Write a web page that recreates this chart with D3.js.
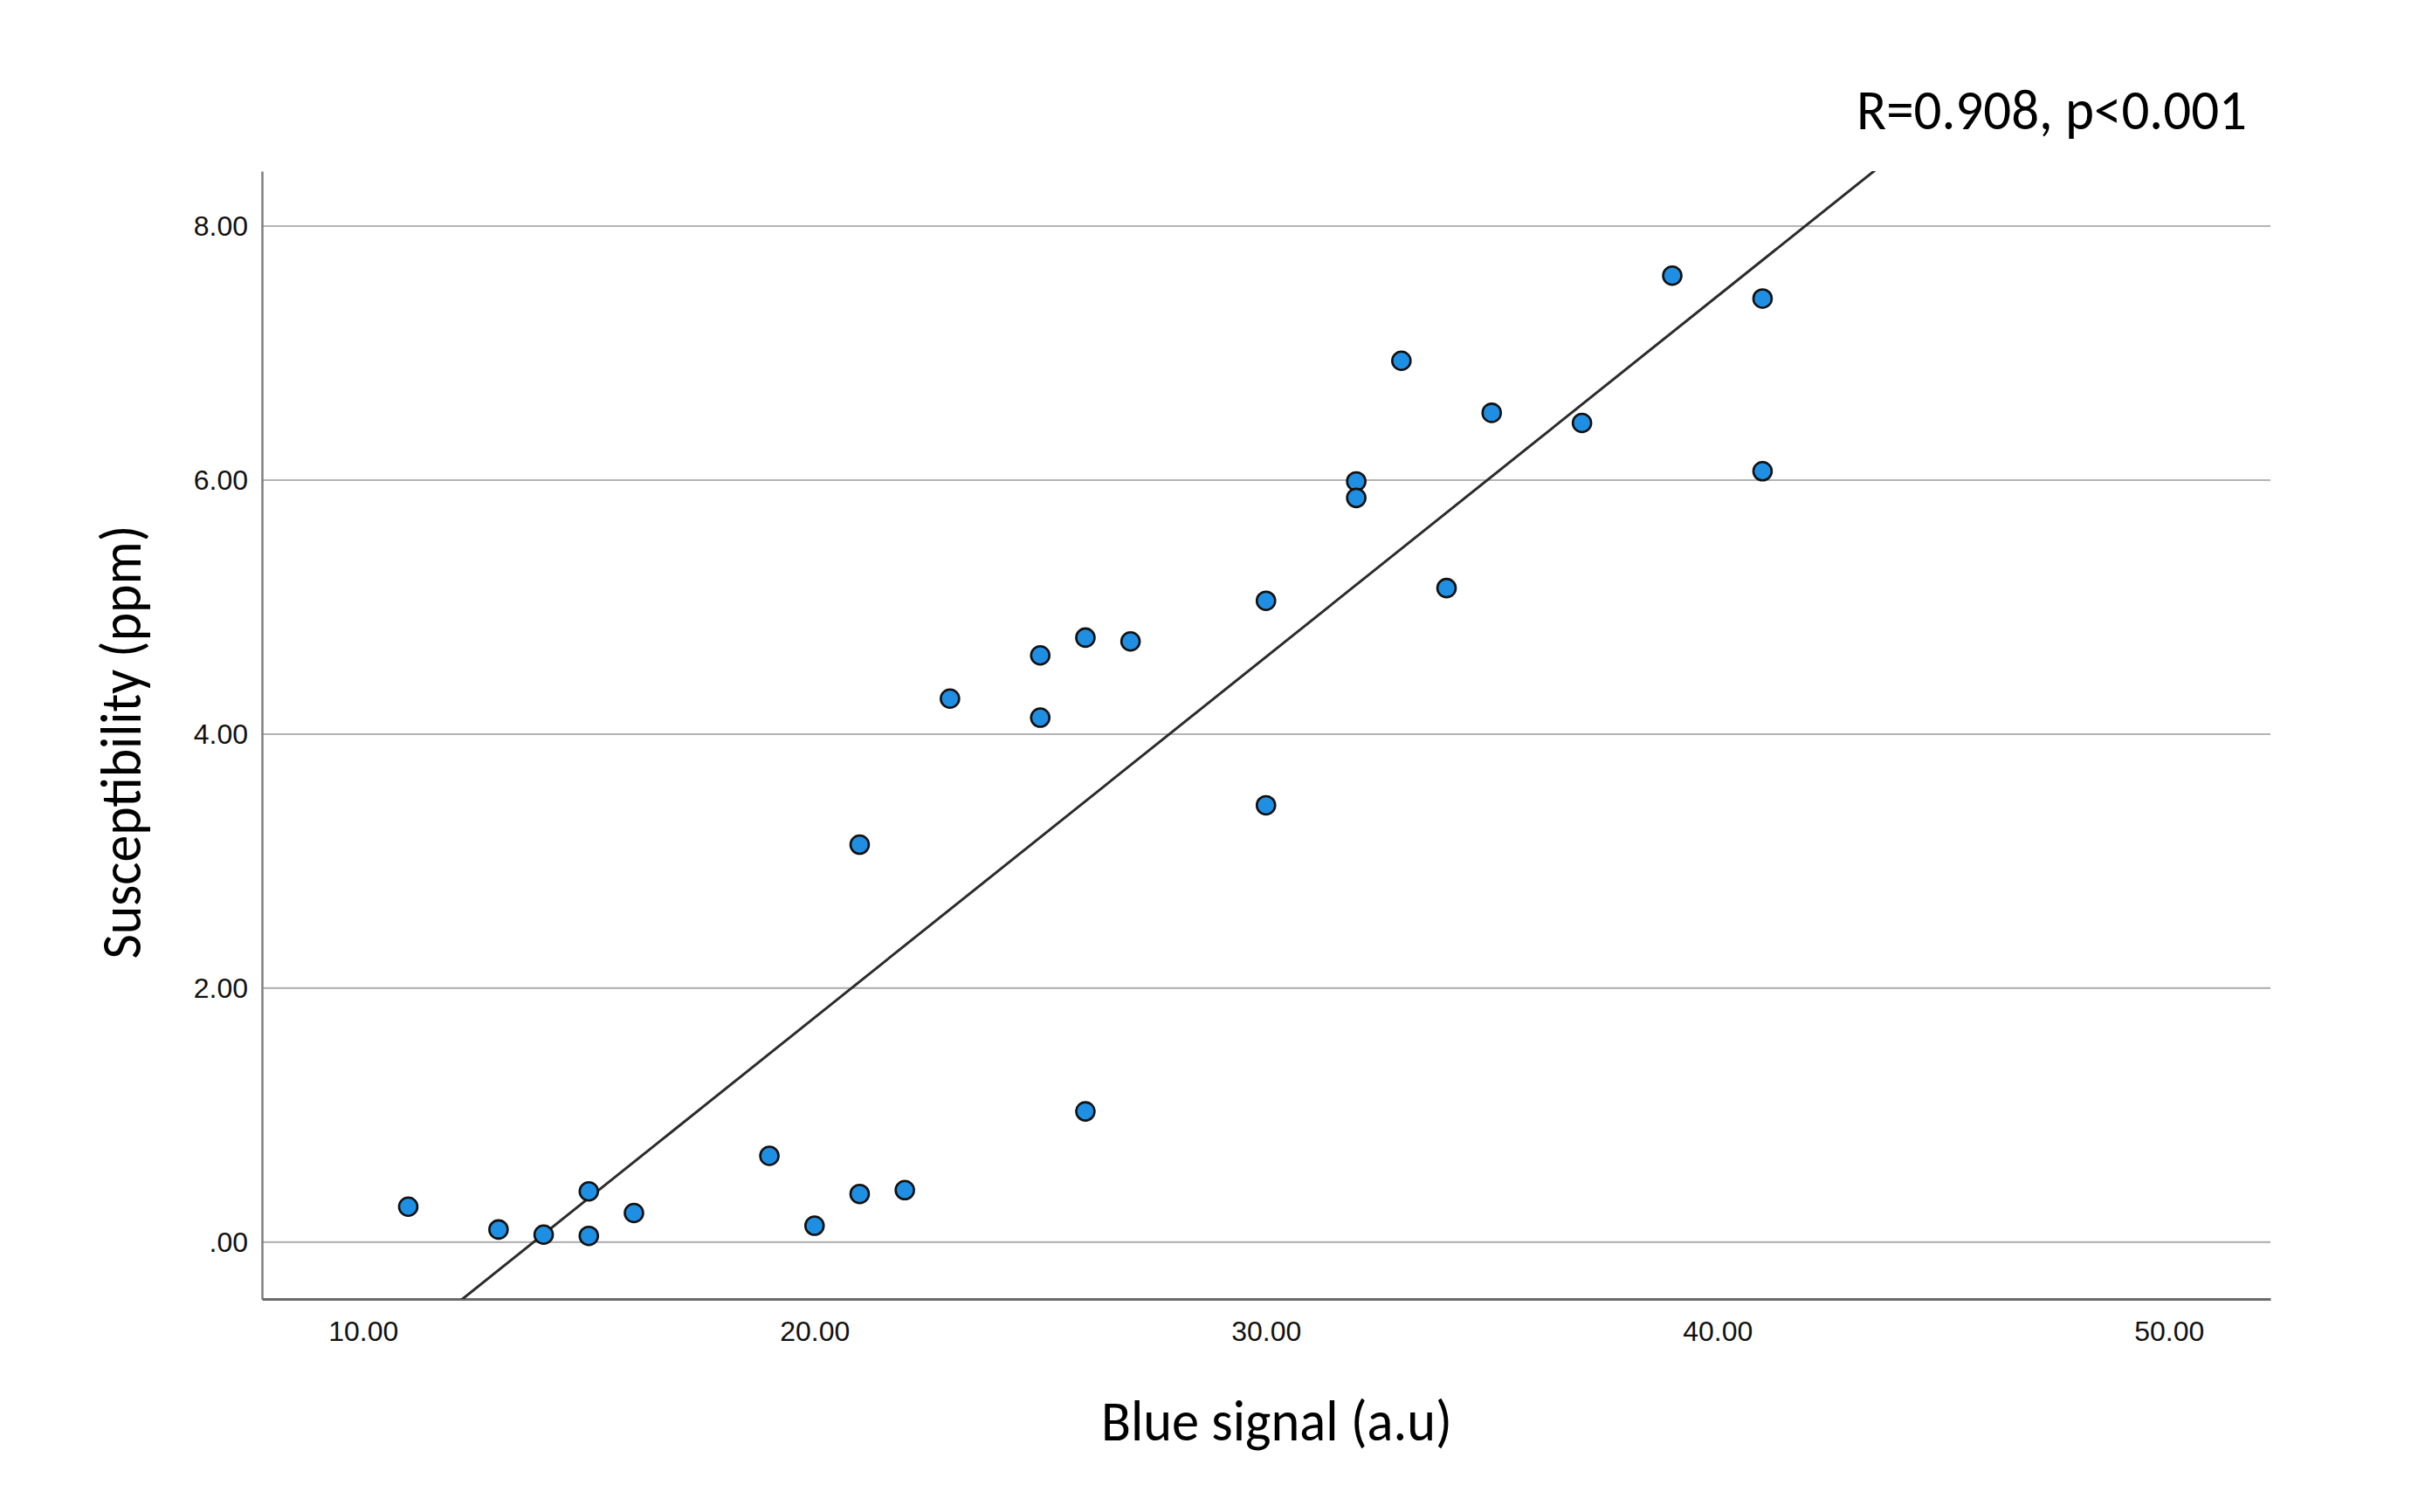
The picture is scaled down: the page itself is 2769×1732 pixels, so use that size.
<!DOCTYPE html>
<html>
<head>
<meta charset="utf-8">
<script src="https://cdn.jsdelivr.net/npm/d3@7"></script>
<style>
  html, body { margin: 0; padding: 0; background: #fff; }
  svg { display: block; }
</style>
</head>
<body>
<svg id="chart"></svg>
<script>
/*global d3 */

// blue signal (a.u)
var blueSignal = [11, 13, 14, 15, 15, 16, 19, 20, 21, 22, 21, 23, 25, 25, 26, 27, 26,
                  30, 30, 32, 32, 33, 34, 35, 37, 39, 41, 41];
// susceptibility (ppm)
var susceptibility = [0.28, 0.10, 0.06, 0.40, 0.05, 0.23, 0.68, 0.13, 0.38, 0.41, 3.13, 4.28, 4.62, 4.13, 4.76, 4.73, 1.03,
                      5.05, 3.44, 5.99, 5.86, 6.94, 5.15, 6.53, 6.45, 7.61, 7.43, 6.07];

var xTicks = [10, 20, 30, 40, 50];
var xTickLabels = ["10.00", "20.00", "30.00", "40.00", "50.00"];
var yTicks = [0, 2, 4, 6, 8];
var yTickLabels = [".00", "2.00", "4.00", "6.00", "8.00"];

// fit line as drawn in the figure
var fitSlope = 0.284;
var fitIntercept = -3.912;
var statsLabel = "R=0.908, p<0.001";

var W = 2769, H = 1732;
var plot = { left: 300, right: 2600, top: 196, bottom: 1488 };

var svg = d3.select("#chart").attr("width", W).attr("height", H);

var x = d3.scaleLinear().domain([7.76, 52.25]).range([plot.left, plot.right]);
var y = d3.scaleLinear().domain([-0.447, 8.433]).range([plot.bottom, plot.top]);

var tickFont = "'Liberation Sans', Arial, sans-serif";
var titleFont = "Carlito, Calibri, Lato, 'Open Sans', sans-serif";

// horizontal grid lines
svg.append("g")
  .selectAll("line")
  .data(yTicks)
  .enter()
  .append("line")
  .attr("x1", plot.left)
  .attr("x2", plot.right)
  .attr("y1", function(d) { return y(d); })
  .attr("y2", function(d) { return y(d); })
  .attr("stroke", "#b4b4b4")
  .attr("stroke-width", 2.2);

// y axis: plain line, labels only
var yAxis = d3.axisLeft(y)
  .tickValues(yTicks)
  .tickSize(0)
  .tickPadding(16)
  .tickFormat(function(d, i) { return yTickLabels[i]; });

var gy = svg.append("g")
  .attr("transform", "translate(" + plot.left + ",0)")
  .call(yAxis);
gy.select(".domain").attr("stroke", "#808080").attr("stroke-width", 2.5);
gy.selectAll("text")
  .style("font-family", tickFont)
  .style("font-size", "32px")
  .attr("fill", "#111");

var xAxis = d3.axisBottom(x)
  .tickValues(xTicks)
  .tickSize(0)
  .tickPadding(25)
  .tickFormat(function(d, i) { return xTickLabels[i]; });

var gx = svg.append("g")
  .attr("transform", "translate(0," + plot.bottom + ")")
  .call(xAxis);
gx.select(".domain").attr("stroke", "#6a6a6a").attr("stroke-width", 3);
gx.selectAll("text")
  .style("font-family", tickFont)
  .style("font-size", "32px")
  .attr("fill", "#111");

// regression line, clipped to the plot box
svg.append("clipPath")
  .attr("id", "plot-clip")
  .append("rect")
  .attr("x", plot.left)
  .attr("y", plot.top)
  .attr("width", plot.right - plot.left)
  .attr("height", plot.bottom - plot.top);

var xd = x.domain();
var fitLine = d3.line()
  .x(function(d) { return x(d); })
  .y(function(d) { return y(fitSlope * d + fitIntercept); });

svg.append("path")
  .datum(xd)
  .attr("clip-path", "url(#plot-clip)")
  .attr("d", fitLine)
  .attr("fill", "none")
  .attr("stroke", "#2b2b2b")
  .attr("stroke-width", 3);

// points
svg.append("g")
  .selectAll("circle")
  .data(blueSignal)
  .enter()
  .append("circle")
  .attr("cx", function(d) { return x(d); })
  .attr("cy", function(d, i) { return y(susceptibility[i]); })
  .attr("r", 10.5)
  .attr("fill", "#1f8fe3")
  .attr("stroke", "#111")
  .attr("stroke-width", 2.6);

// titles
svg.append("text")
  .attr("x", 1462)
  .attr("y", 1650)
  .attr("text-anchor", "middle")
  .attr("textLength", 402)
  .attr("lengthAdjust", "spacingAndGlyphs")
  .style("font-family", titleFont)
  .style("font-size", "65px")
  .attr("fill", "#000")
  .text("Blue signal (a.u)");

svg.append("text")
  .attr("transform", "translate(161,850) rotate(-90)")
  .attr("text-anchor", "middle")
  .attr("textLength", 497)
  .attr("lengthAdjust", "spacingAndGlyphs")
  .style("font-family", titleFont)
  .style("font-size", "65px")
  .attr("fill", "#000")
  .text("Susceptibility (ppm)");

svg.append("text")
  .attr("x", 2126)
  .attr("y", 148)
  .attr("textLength", 447)
  .attr("lengthAdjust", "spacingAndGlyphs")
  .style("font-family", titleFont)
  .style("font-size", "65px")
  .attr("fill", "#000")
  .text(statsLabel);
</script>
</body>
</html>
